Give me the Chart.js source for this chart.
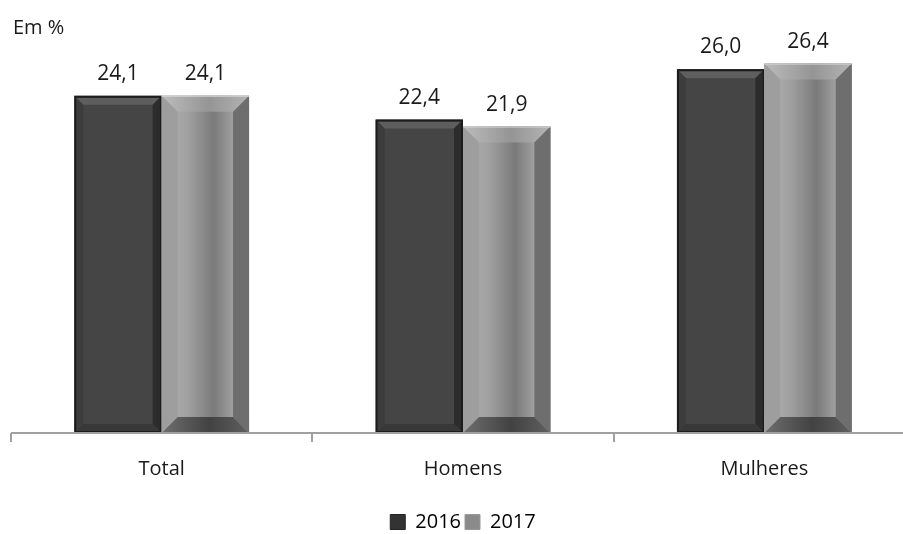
<!DOCTYPE html>
<html>
<head>
<meta charset="utf-8">
<script src="https://cdn.jsdelivr.net/npm/chart.js@4.4.0/dist/chart.umd.min.js"></script>
<style>
  body { margin: 0; background: #fff; }
  #wrap { width: 903px; height: 534px; overflow: hidden; }
</style>
</head>
<body>
<div id="wrap"><canvas id="barChart" width="915" height="534"></canvas></div>
<script>
var categorias = ['Total', 'Homens', 'Mulheres'];
var anos = ['2016', '2017'];
var valores2016 = [24.1, 22.4, 26.0];
var valores2017 = [24.1, 21.9, 26.4];
var fonte = "'Open Sans', 'Noto Sans', sans-serif";

function fmt(v) {
    return v.toFixed(1).replace('.', ',');
}

function trap(ctx, pts, fill) {
    ctx.fillStyle = fill;
    ctx.beginPath();
    ctx.moveTo(pts[0], pts[1]);
    for (var i = 2; i < pts.length; i += 2) ctx.lineTo(pts[i], pts[i + 1]);
    ctx.closePath();
    ctx.fill();
}

// efeito de bisel nas barras, desenhado sobre os elementos do Chart.js
var bevelPlugin = {
    id: 'bevel',
    afterDatasetsDraw: function (chart) {
        var ctx = chart.ctx;
        chart.data.datasets.forEach(function (ds, di) {
            var meta = chart.getDatasetMeta(di);
            meta.data.forEach(function (bar, idx) {
                var p = bar.getProps(['x', 'y', 'base', 'width'], true);
                var l = p.x - p.width / 2, r = p.x + p.width / 2, t = p.y, b = p.base;
                ctx.save();
                if (di == 0) {
                    var d = 7;
                    trap(ctx, [l + 2, t + 2, r - 2, t + 2, r - 2 - d, t + 2 + d, l + 2 + d, t + 2 + d], '#5e5e5e');
                    trap(ctx, [l + 2, t + 2, l + 2 + d, t + 2 + d, l + 2 + d, b - 2 - d, l + 2, b - 2], '#3c3c3c');
                    trap(ctx, [r - 2, t + 2, r - 2, b - 2, r - 2 - d, b - 2 - d, r - 2 - d, t + 2 + d], '#2c2c2c');
                    trap(ctx, [l + 2, b - 2, r - 2, b - 2, r - 2 - d, b - 2 - d, l + 2 + d, b - 2 - d], '#383838');
                    ctx.strokeStyle = '#1c1c1c';
                    ctx.lineWidth = 2;
                    ctx.strokeRect(l + 1, t + 1, p.width - 2, b - t - 2);
                } else {
                    var d2 = 16;
                    // face
                    var gf = ctx.createLinearGradient(l, 0, r, 0);
                    gf.addColorStop(0, '#b4b4b4');
                    gf.addColorStop(0.3, '#a0a0a0');
                    gf.addColorStop(0.6, '#7a7a7a');
                    gf.addColorStop(0.85, '#a6a6a6');
                    gf.addColorStop(1, '#9a9a9a');
                    ctx.fillStyle = gf;
                    ctx.fillRect(l, t, p.width, b - t);
                    // topo
                    var gt = ctx.createLinearGradient(l, 0, r, 0);
                    gt.addColorStop(0, '#bcbcbc'); gt.addColorStop(0.55, '#959595'); gt.addColorStop(1, '#b4b4b4');
                    trap(ctx, [l, t, r, t, r - d2, t + d2, l + d2, t + d2], gt);
                    // esquerda
                    trap(ctx, [l, t, l + d2, t + d2, l + d2, b - d2, l, b], '#9e9e9e');
                    // direita
                    trap(ctx, [r, t, r - d2, t + d2, r - d2, b - d2, r, b], '#6e6e6e');
                    // base
                    var gb = ctx.createLinearGradient(l, 0, r, 0);
                    gb.addColorStop(0, '#6e6e6e'); gb.addColorStop(0.55, '#424242'); gb.addColorStop(1, '#606060');
                    trap(ctx, [l, b, r, b, r - d2, b - d2, l + d2, b - d2], gb);
                    ctx.strokeStyle = '#d4d4d4';
                    ctx.lineWidth = 1;
                    ctx.beginPath(); ctx.moveTo(l, t + 0.5); ctx.lineTo(r, t + 0.5); ctx.stroke();
                }
                ctx.restore();
                // rótulo do valor
                ctx.save();
                ctx.fillStyle = '#1a1a1a';
                ctx.font = '21px ' + fonte;
                ctx.textAlign = 'center';
                ctx.textBaseline = 'alphabetic';
                ctx.fillText(fmt(ds.data[idx]), p.x, t - 16);
                ctx.restore();
            });
        });
        // eixo
        var xs = chart.scales.x;
        ctx.save();
        ctx.strokeStyle = '#a0a0a0';
        ctx.lineWidth = 2;
        ctx.beginPath();
        ctx.moveTo(xs.left, xs.top); ctx.lineTo(xs.right, xs.top);
        ctx.stroke();
        ctx.restore();
        // unidade
        ctx.save();
        ctx.fillStyle = '#1a1a1a';
        ctx.font = '20px ' + fonte;
        ctx.textBaseline = 'middle';
        ctx.fillText('Em %', 13, 28);
        ctx.restore();
    }
};

var chart = new Chart(document.querySelector('#barChart'), {
    type: 'bar',
    data: {
        labels: categorias,
        datasets: [{
            label: anos[0],
            data: valores2016,
            backgroundColor: '#454545',
            borderWidth: 0
        }, {
            label: anos[1],
            data: valores2017,
            backgroundColor: '#8e8e8e',
            borderWidth: 0
        }]
    },
    options: {
        responsive: false,
        animation: false,
        layout: { padding: { top: 16, left: 11, right: 0, bottom: -8 } },
        categoryPercentage: 0.58,
        barPercentage: 1.0,
        plugins: {
            tooltip: { enabled: false },
            legend: {
                position: 'bottom',
                labels: {
                    color: '#1a1a1a',
                    font: { size: 20, family: fonte },
                    boxWidth: 15,
                    boxHeight: 15,
                    padding: 4,
                    generateLabels: function (ch) {
                        return [
                            { text: anos[0], fillStyle: '#333', strokeStyle: '#222', lineWidth: 1, datasetIndex: 0 },
                            { text: anos[1], fillStyle: '#8a8a8a', strokeStyle: '#999', lineWidth: 1, datasetIndex: 1 }
                        ];
                    }
                }
            }
        },
        scales: {
            x: {
                grid: { display: true, drawOnChartArea: false, offset: true, tickLength: 9, color: '#a0a0a0', lineWidth: 2 },
                border: { display: false },
                ticks: { color: '#1a1a1a', font: { size: 20, family: fonte }, padding: 15 },
                afterFit: function (s) { s.height += 12; }
            },
            y: {
                display: false,
                min: 0,
                max: 29.8
            }
        }
    },
    plugins: [bevelPlugin]
});
</script>
</body>
</html>
